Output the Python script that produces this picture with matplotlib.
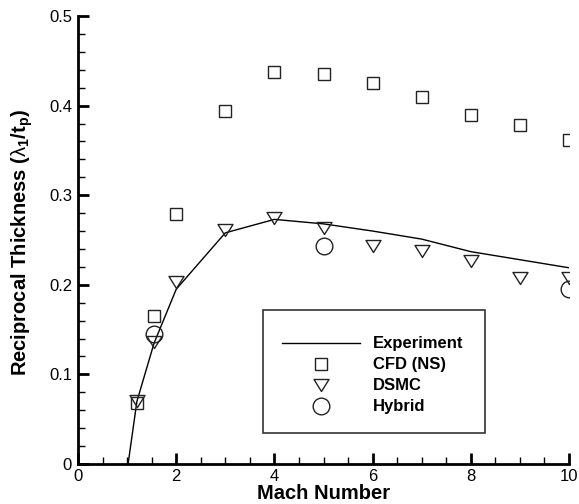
import matplotlib
matplotlib.use("Agg")
import matplotlib.pyplot as plt
from matplotlib.ticker import MultipleLocator
from matplotlib.path import Path
from matplotlib.patches import Rectangle

plt.rcParams['font.family'] = ['Liberation Sans', 'DejaVu Sans']
plt.rcParams['mathtext.fontset'] = 'custom'
plt.rcParams['mathtext.rm'] = 'Liberation Sans:bold'
plt.rcParams['mathtext.it'] = 'Liberation Sans:bold'
plt.rcParams['mathtext.bf'] = 'Liberation Sans:bold'
plt.rcParams['mathtext.sf'] = 'Liberation Sans'

# Experiment (line)
exp_mach = [1.02, 1.2, 1.55, 2.0, 3.0, 4.0, 5.0, 6.0, 7.0, 8.0, 10.0]
exp_val = [0.0, 0.070, 0.135, 0.195, 0.258, 0.273, 0.268, 0.260, 0.251, 0.237, 0.219]

# CFD (NS)
cfd_mach = [1.2, 1.55, 2, 3, 4, 5, 6, 7, 8, 9, 10]
cfd_val = [0.068, 0.165, 0.279, 0.394, 0.438, 0.435, 0.425, 0.410, 0.390, 0.378, 0.362]

# DSMC
dsmc_mach = [1.2, 1.55, 2, 3, 4, 5, 6, 7, 8, 9, 10]
dsmc_val = [0.070, 0.136, 0.203, 0.261, 0.275, 0.263, 0.243, 0.238, 0.227, 0.208, 0.208]

# Hybrid
hyb_mach = [1.55, 5, 10]
hyb_val = [0.145, 0.243, 0.195]

x_ticks = [0, 2, 4, 6, 8, 10]
x_ticklabels = ['0', '2', '4', '6', '8', '10']
y_ticks = [0, 0.1, 0.2, 0.3, 0.4, 0.5]
y_ticklabels = ['0', '0.1', '0.2', '0.3', '0.4', '0.5']

fig = plt.figure(figsize=(5.79, 5.04), dpi=100)
ax = fig.add_axes([78/579, 40/504, 491/579, 448/504])

tri = Path([(-1, 0.8), (1, 0.8), (0, -0.8), (-1, 0.8)],
           [Path.MOVETO, Path.LINETO, Path.LINETO, Path.CLOSEPOLY])

ec = '#222222'
ax.plot(exp_mach, exp_val, color='black', lw=1.0, label='Experiment')
ax.plot(cfd_mach, cfd_val, ls='none', marker='s', ms=8.6, mfc='none',
        mec=ec, mew=1.0, label='CFD (NS)')
ax.plot(dsmc_mach, dsmc_val, ls='none', marker=tri, ms=10.8, mfc='none',
        mec=ec, mew=1.0, label='DSMC')
ax.plot(hyb_mach, hyb_val, ls='none', marker='o', ms=12, mfc='none',
        mec=ec, mew=1.0, label='Hybrid')

ax.set_xlim(0, 10)
ax.set_ylim(0, 0.5)
ax.set_xticks(x_ticks)
ax.set_xticklabels(x_ticklabels)
ax.set_yticks(y_ticks)
ax.set_yticklabels(y_ticklabels)
ax.xaxis.set_minor_locator(MultipleLocator(0.5))
ax.yaxis.set_minor_locator(MultipleLocator(0.02))

for s in ['top', 'right']:
    ax.spines[s].set_visible(False)
for s in ['left', 'bottom']:
    ax.spines[s].set_linewidth(2.0)
ax.tick_params(which='major', direction='in', length=8, width=2, labelsize=12)
ax.tick_params(axis='x', which='major', pad=3.6)
ax.tick_params(axis='y', which='major', pad=4.3)
ax.tick_params(which='minor', direction='in', length=5, width=1)

ax.set_xlabel('Mach Number', fontsize=14.5, fontweight='bold', va='top')
ax.set_ylabel(r'Reciprocal Thickness ($\mathsf{λ}_1$/t$_p$)', fontsize=14.5,
              fontweight='bold')
ax.xaxis.set_label_coords(0.5, -0.045)
ax.yaxis.set_label_coords(-0.088, 0.4955)

# legend frame
ax.add_patch(Rectangle((0.377, 0.069), 0.452, 0.275, transform=ax.transAxes,
                       fill=True, facecolor='white', edgecolor='#333333',
                       lw=1.2, zorder=4))
leg = ax.legend(loc='upper left', bbox_to_anchor=(0.4155, 0.2846),
                borderaxespad=0, borderpad=0, handlelength=4.67,
                handletextpad=0.78, labelspacing=0.36, frameon=False,
                prop={'weight': 'bold', 'size': 12})
leg.set_zorder(5)

fig.savefig('out.png', dpi=100)
